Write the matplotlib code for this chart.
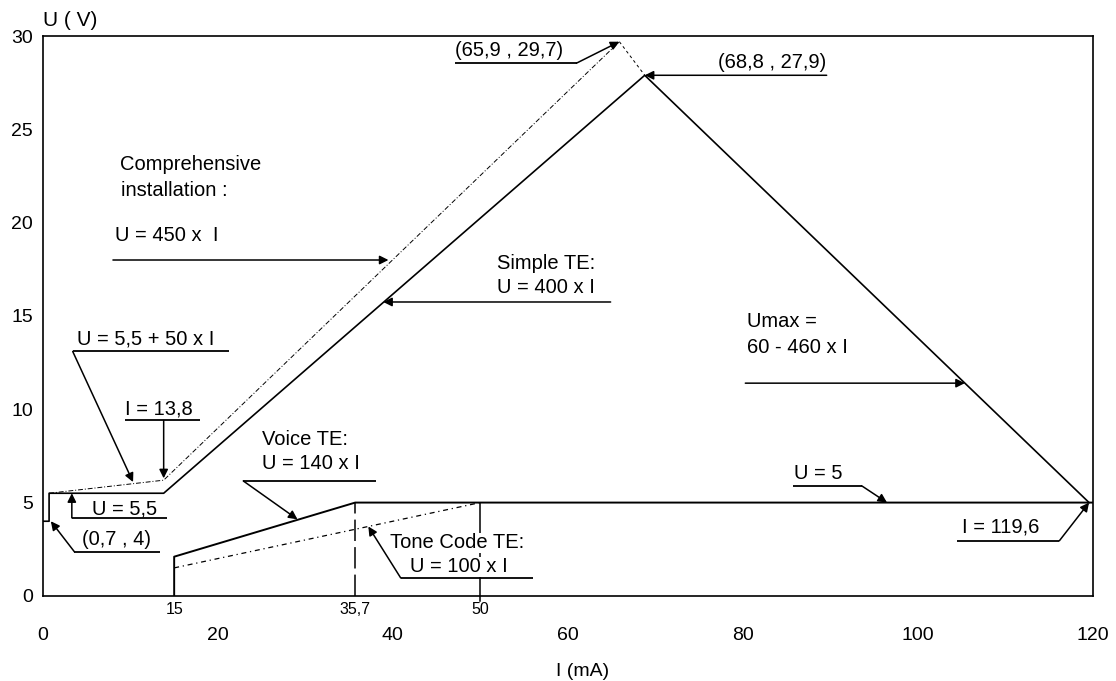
import matplotlib
matplotlib.use("Agg")
import matplotlib.pyplot as plt

plt.rcParams['font.family'] = ['Liberation Sans', 'DejaVu Sans']

# curves (I in mA, U in V)
simple_I = [0, 0.7, 0.7, 13.8, 68.8, 119.6]
simple_U = [4, 4, 5.5, 5.5, 27.9, 5.0]

comp_I = [0.7, 13.8, 65.9]
comp_U = [5.5, 6.2, 29.7]
comp_tail_I = [65.9, 68.8]
comp_tail_U = [29.7, 27.9]

voice_I = [15, 15, 35.7, 120]
voice_U = [0, 2.1, 5.0, 5.0]

tone_I = [15, 50]
tone_U = [1.5, 5.0]

mark_357 = 35.7
mark_50 = 50
u_flat = 5.0

x_major = [0, 20, 40, 60, 80, 100, 120]
x_special = [15, 35.7, 50]
x_special_lbl = ['15', '35,7', '50']
y_ticks = [0, 5, 10, 15, 20, 25, 30]

fig = plt.figure(figsize=(11.16, 6.81), dpi=100)
ax = fig.add_axes([0.0385, 0.125, 0.9405, 0.822])
ax.set_xlim(0, 120)
ax.set_ylim(0, 30)

ax.plot(simple_I, simple_U, color='black', lw=1.2)
ax.plot(voice_I, voice_U, color='black', lw=1.4)
ax.plot(comp_I, comp_U, color='black', lw=0.7, ls=(0, (5, 2, 1, 2)))
ax.plot(comp_tail_I, comp_tail_U, color='black', lw=0.7, ls=(0, (3, 3)))
ax.plot(tone_I, tone_U, color='black', lw=0.9, ls=(0, (4, 3, 1, 3)))
ax.plot([mark_357, mark_357], [0, u_flat], color='black', lw=1.1, ls=(0, (14, 4)))
ax.plot([mark_50, mark_50], [-0.3, u_flat], color='black', lw=1.1, clip_on=False, zorder=1)

for s in ax.spines.values():
    s.set_linewidth(1.2)

ax.set_xticks(x_major)
ax.set_xticklabels([str(v) for v in x_major], fontsize=14)
ax.set_xticks(x_special, minor=True)
ax.set_xticklabels(x_special_lbl, minor=True, fontsize=11.5)
ax.tick_params(axis='x', which='major', length=0, pad=22.5)
ax.tick_params(axis='x', which='minor', length=0, pad=4.5)
ax.set_yticks(y_ticks)
ax.set_yticklabels([str(v) for v in y_ticks], fontsize=14)
ax.tick_params(axis='y', length=0, pad=7)

ax.text(0.514, -0.1357, 'I (mA)', transform=ax.transAxes, fontsize=14,
        ha='center', va='center')
ax.text(0, 1.01, 'U ( V)', transform=ax.transAxes, fontsize=15, ha='left', va='bottom')

fs = 14.5
arrow = dict(arrowstyle='-|>', color='black', lw=1.1, mutation_scale=13, shrinkA=0, shrinkB=0)


def underline(x0, x1, y):
    ax.plot([x0, x1], [y, y], color='black', lw=1.3, solid_capstyle='butt', zorder=6)


def leader(start, tip):
    ax.annotate('', xy=tip, xytext=start, arrowprops=arrow, zorder=6)


# (65,9 , 29,7)
ax.text(47.1, 28.7, '(65,9 , 29,7)', fontsize=fs, va='bottom')
underline(47.1, 61.0, 28.55)
leader((61.0, 28.55), (65.9, 29.7))

# (68,8 , 27,9)
ax.text(89.6, 28.05, '(68,8 , 27,9)', fontsize=fs, va='bottom', ha='right')
leader((89.6, 27.9), (68.8, 27.9))

# comprehensive installation
ax.text(8.8, 23.1, 'Comprehensive', fontsize=fs, va='center')
ax.text(8.9, 21.75, 'installation :', fontsize=fs, va='center')
ax.text(8.2, 19.3, 'U = 450 x  I', fontsize=fs, va='center')
leader((8.0, 18.0), (39.5, 18.0))

# simple TE
ax.text(51.9, 17.8, 'Simple TE:', fontsize=fs, va='center')
ax.text(51.9, 16.55, 'U = 400 x I', fontsize=fs, va='center')
leader((64.9, 15.75), (38.9, 15.75))

# Umax
ax.text(80.5, 14.7, 'Umax =', fontsize=fs, va='center')
ax.text(80.5, 13.3, '60 - 460 x I', fontsize=fs, va='center')
leader((80.3, 11.4), (105.4, 11.4))

# U = 5,5 + 50 x I
ax.text(3.9, 13.75, 'U = 5,5 + 50 x I', fontsize=fs, va='center')
underline(3.4, 21.3, 13.1)
leader((3.4, 13.1), (10.3, 6.1))

# I = 13,8
ax.text(9.4, 10.0, 'I = 13,8', fontsize=fs, va='center')
underline(9.4, 17.9, 9.4)
leader((13.8, 9.4), (13.8, 6.3))

# U = 5,5
ax.text(5.6, 4.65, 'U = 5,5', fontsize=fs, va='center')
underline(3.3, 14.2, 4.18)
leader((3.3, 4.18), (3.3, 5.5))

# (0,7 , 4)
ax.text(4.5, 3.0, '(0,7 , 4)', fontsize=fs, va='center')
underline(3.6, 13.4, 2.36)
leader((3.6, 2.36), (0.9, 4.0))

# voice TE
ax.text(25.0, 8.4, 'Voice TE:', fontsize=fs, va='center')
ax.text(25.0, 7.1, 'U = 140 x I', fontsize=fs, va='center')
underline(22.9, 38.1, 6.16)
leader((22.9, 6.16), (29.1, 4.1))

# tone code TE (white box hides the 50 mA marker behind the text)
ax.text(39.7, 2.84, 'Tone Code TE:', fontsize=fs, va='center', zorder=5,
        bbox=dict(facecolor='white', edgecolor='none', pad=0.5))
ax.text(42.0, 1.55, 'U = 100 x I', fontsize=fs, va='center', zorder=5,
        bbox=dict(facecolor='white', edgecolor='none', pad=0.5))
underline(40.9, 56.0, 0.96)
leader((40.9, 0.96), (37.2, 3.72))

# U = 5
ax.text(85.9, 6.55, 'U = 5', fontsize=fs, va='center')
underline(85.7, 93.6, 5.9)
leader((93.6, 5.9), (96.5, 5.0))

# I = 119,6
ax.text(105.1, 3.7, 'I = 119,6', fontsize=fs, va='center')
underline(104.5, 116.2, 2.95)
leader((116.2, 2.95), (119.6, 5.0))

fig.savefig('out.png', dpi=100)
